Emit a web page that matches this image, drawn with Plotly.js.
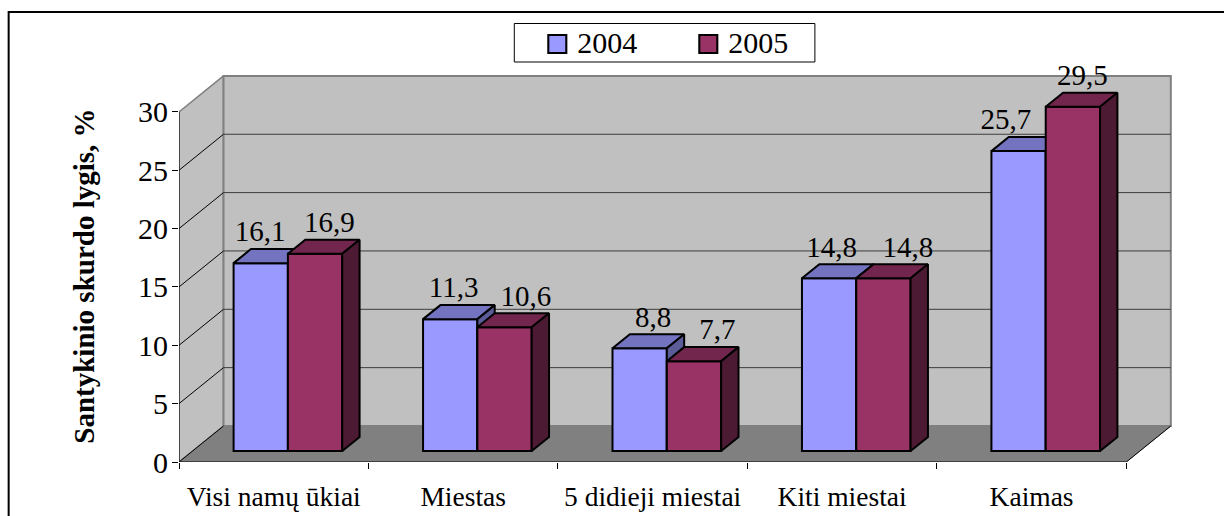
<!DOCTYPE html>
<html><head><meta charset="utf-8">
<script src="https://cdn.plot.ly/plotly-3.0.1.min.js"></script>
<style>html,body{margin:0;padding:0;background:#fff;overflow:hidden}</style>
</head><body><div id="chart" style="width:1224px;height:516px"></div>
<script>
// ---- data ----
const categories = ['Visi namų ūkiai','Miestas','5 didieji miestai','Kiti miestai','Kaimas'];
const series2004 = [16.1,11.3,8.8,14.8,25.7];
const series2005 = [16.9,10.6,7.7,14.8,29.5];
const yTicks = [0,5,10,15,20,25,30];
const yAxisTitle = 'Santykinio skurdo lygis, %';
// label nudges (pixels) as placed in the reference
const nudge2004 = [0,4,14,3,-12];
const nudge2005 = [15,22,24,25,10];

// ---- look ----
const FONT='Liberation Serif';
const C04={front:'#9999FF',top:'#7373BF',side:'#5C5C99'};
const C05={front:'#993366',top:'#73264D',side:'#4D1A33'};
const W=1224,H=516,L=179.3,R=1172,T=50,B=462;
const pxCat=189.4, pxVal=11.67;
const dX=44.5/pxCat, dY=36/pxVal;           // oblique projection of full depth
const near=0.305, far=0.695, barW=54.3/pxCat, barNudge=0.6/pxCat;
const xMax=(R-L)/pxCat, yMax=(B-T)/pxVal;
const P=(c,v,d)=>[c+d*dX, v+d*dY];

function poly(points,acc){points.concat([points[0]]).forEach(p=>{acc.x.push(p[0]);acc.y.push(p[1]);});acc.x.push(null);acc.y.push(null);return acc;}
function polyTrace(x,y,fill,line,lw,ax){return {type:'scatter',mode:'lines',x,y,fill:'toself',fillcolor:fill,line:{color:line,width:lw,shape:'linear'},hoverinfo:'skip',showlegend:false,xaxis:ax[0],yaxis:ax[1]};}
function lineTrace(pts,color,lw){const x=[],y=[];pts.forEach(s=>{x.push(s[0][0],s[1][0],null);y.push(s[0][1],s[1][1],null);});return {type:'scatter',mode:'lines',x,y,line:{color,width:lw},hoverinfo:'skip',showlegend:false,xaxis:'x',yaxis:'y'};}

const nCat=categories.length, yTop=yTicks[yTicks.length-1];
const traces=[];
// walls and floor
const A=['x','y'];
let w=poly([P(0,0,0),P(0,yTop,0),P(0,yTop,1),P(0,0,1)],{x:[],y:[]}); traces.push(polyTrace(w.x,w.y,'#C0C0C0','#808080',1.5,A));
w=poly([P(0,0,1),P(0,yTop,1),P(nCat,yTop,1),P(nCat,0,1)],{x:[],y:[]}); traces.push(polyTrace(w.x,w.y,'#C0C0C0','#808080',2,A));
w=poly([P(0,0,0),P(0,0,1),P(nCat,0,1),P(nCat,0,0)],{x:[],y:[]}); traces.push(polyTrace(w.x,w.y,'#808080','#808080',1,A));
const inner=yTicks.filter(v=>v>0&&v<yTop);
traces.push(lineTrace(inner.map(v=>[P(0,v,1),P(nCat,v,1)]),'#3c3c3c',1));
traces.push(lineTrace(inner.map(v=>[P(0,v,0),P(0,v,1)]).concat([[P(0,0,0),P(0,0,1)],[P(nCat,0,0),P(nCat,0,1)]]),'#000',1));
traces.push(lineTrace([[P(0,0,0),P(0,yTop,0)],[P(0,0,0),P(nCat,0,0)]],'#000',1));

function series(name,vals,col,xShift,ax){
  const base=near*dY;
  const centers=vals.map((_,i)=>i+0.5+near*dX+xShift+barNudge);
  traces.push({type:'bar',name,x:centers,y:vals,base:base,width:barW,
    marker:{color:col.front,line:{color:'#000',width:2}},hoverinfo:'skip',xaxis:ax[0],yaxis:ax[1]});
  const tp={x:[],y:[]},sd={x:[],y:[]};
  vals.forEach((v,i)=>{
    const l=centers[i]-barW/2-near*dX, r=centers[i]+barW/2-near*dX;
    poly([P(l,v,near),P(l,v,far),P(r,v,far),P(r,v,near)],tp);
    poly([P(r,0,near),P(r,v,near),P(r,v,far),P(r,0,far)],sd);
  });
  traces.push(polyTrace(tp.x,tp.y,col.top,'#000',2,ax));
  traces.push(polyTrace(sd.x,sd.y,col.side,'#000',2,ax));
}
series('2004',series2004,C04,-barW/2,['x2','y2']);
series('2005',series2005,C05, barW/2,['x3','y3']);

// value labels
function labels(vals,nudge,xShift){
  traces.push({type:'scatter',mode:'text',
    x:vals.map((_,i)=>i+0.5+near*dX+xShift+nudge[i]/pxCat),
    y:vals.map(v=>v+far*dY+15/pxVal),
    text:vals.map(v=>v.toFixed(1).replace('.',',')),
    textposition:'middle center',cliponaxis:false,
    textfont:{family:FONT,size:29,color:'#000'},hoverinfo:'skip',showlegend:false,xaxis:'x3',yaxis:'y3'});
}
labels(series2004,nudge2004,-barW/2);
labels(series2005,nudge2005,barW/2);

const hiddenX={range:[0,xMax],overlaying:'x',showgrid:false,zeroline:false,showline:false,ticks:'',showticklabels:false,anchor:'y'};
const hiddenY={range:[0,yMax],overlaying:'y',showgrid:false,zeroline:false,showline:false,ticks:'',showticklabels:false,anchor:'x'};
const px=v=>(v-L)/(R-L), py=v=>(B-v)/(B-T);
const layout={
  width:W,height:H,margin:{l:L,r:W-R,t:T,b:H-B,pad:0},paper_bgcolor:'#fff',plot_bgcolor:'rgba(0,0,0,0)',
  font:{family:FONT,color:'#000',size:26},barmode:'overlay',
  xaxis:{range:[0,xMax],tickmode:'array',tickvals:[...Array(nCat+1).keys()],ticktext:Array(nCat+1).fill(''),ticks:'outside',ticklen:6,tickcolor:'#000',tickwidth:1,showgrid:false,zeroline:false,showline:false,fixedrange:true},
  yaxis:{range:[0,yMax],tickmode:'array',tickvals:yTicks,ticks:'outside',ticklen:6,tickcolor:'#000',tickwidth:1,tickfont:{family:FONT,size:30,color:'#000'},ticklabelstandoff:-2,showgrid:false,zeroline:false,showline:false,fixedrange:true},
  xaxis2:Object.assign({},hiddenX,{showticklabels:true,tickmode:'array',tickvals:categories.map((_,i)=>i+0.5),ticktext:categories,tickfont:{family:FONT,size:27.5,color:'#000'},side:'bottom',ticklabelstandoff:15,tickangle:0}),
  yaxis2:Object.assign({},hiddenY),
  xaxis3:Object.assign({},hiddenX),
  yaxis3:Object.assign({},hiddenY),
  legend:{orientation:'h',x:px(514.5),y:py(15),xanchor:'left',yanchor:'top',bgcolor:'rgba(0,0,0,0)',borderwidth:0,
    font:{family:FONT,size:30,color:'#000'},itemwidth:53,entrywidth:83,entrywidthmode:'pixels',traceorder:'normal',itemclick:false,itemdoubleclick:false},
  annotations:[{text:'<b>'+yAxisTitle+'</b>',xref:'paper',yref:'paper',x:px(84),y:py(276),textangle:-90,showarrow:false,font:{family:FONT,size:29,color:'#000'},xanchor:'center',yanchor:'middle'}],
  shapes:[
    {type:'line',xref:'paper',yref:'paper',x0:px(9),x1:px(1224),y0:py(12),y1:py(12),line:{color:'#000',width:2},layer:'above'},
    {type:'line',xref:'paper',yref:'paper',x0:px(9),x1:px(9),y0:py(11),y1:py(516),line:{color:'#000',width:2},layer:'above'},
    {type:'rect',xref:'paper',yref:'paper',x0:px(514.5),x1:px(815),y0:py(23.5),y1:py(62),line:{color:'#000',width:1},fillcolor:'#fff',layer:'above'}
  ]
};
Plotly.newPlot('chart',traces,layout,{staticPlot:true,displayModeBar:false}).then(gd=>{
  gd.querySelectorAll('.legend .legendpoints path').forEach(p=>{
    p.setAttribute('transform','translate(43,3) scale(1.5)');
    p.style.strokeWidth='1.4px';
  });
});
</script></body></html>
